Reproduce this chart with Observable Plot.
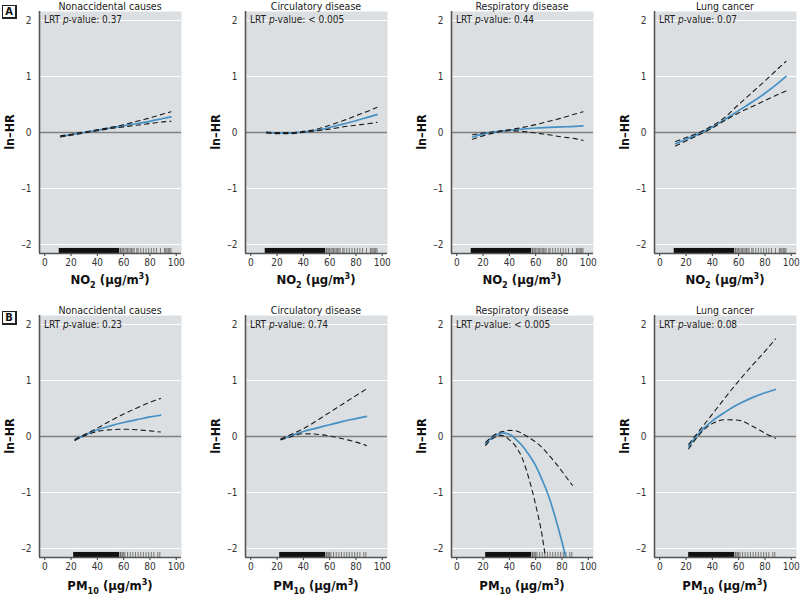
<!DOCTYPE html>
<html><head><meta charset="utf-8">
<script src="https://cdn.jsdelivr.net/npm/d3@7"></script>
<script src="https://cdn.jsdelivr.net/npm/@observablehq/plot@0.6"></script>
<style>
body{margin:0;background:#fff;overflow:hidden}
#chart{position:relative;width:800px;height:598px;font-family:"Liberation Sans Narrow","DejaVu Sans",sans-serif;font-stretch:condensed}
.panel{position:absolute;font-stretch:condensed}
.tag{position:absolute;left:2px;width:12px;height:11px;border:1px solid #222;border-right-width:2px;border-bottom-width:2px;font-weight:bold;font-size:11px;line-height:11px;text-align:center;color:#111;background:#fff}
</style></head>
<body><div id="chart"></div>
<script>
// ---------- data ----------
const outcomes = ["Nonaccidental causes", "Circulatory disease", "Respiratory disease", "Lung cancer"];
const pValuesNO2 = ["0.37", "< 0.005", "0.44", "0.07"];
const pValuesPM10 = ["0.23", "0.74", "< 0.005", "0.08"];
const rowTags = ["A", "B"];
const xTicks = [0, 20, 40, 60, 80, 100];
const yTicks = [-2, -1, 0, 1, 2];
const gridLines = [-2, -1, 1, 2];

// rug of exposures (dense span + individual observations)
const rugDenseNO2 = [11, 57];
const rugTicksNO2 = [57.5, 58, 59, 60, 61, 62, 63, 64, 65, 66, 67, 68, 70, 71, 73, 75, 77, 79, 81, 83, 85, 88, 91, 92, 93, 94, 95, 96];
const rugDensePM10 = [22, 57];
const rugTicksPM10 = [57.5, 58, 59, 60, 61, 63, 65, 67, 69, 71, 73, 75, 77, 79, 81, 83, 86, 87.5];

// NO2 panels
const no2X = [12, 20, 30, 40, 50, 60, 70, 80, 90, 96];
const no2NonaccEst = [-0.07, -0.04, 0.00, 0.04, 0.08, 0.12, 0.16, 0.20, 0.25, 0.28];
const no2NonaccHi  = [-0.06, -0.03, 0.01, 0.05, 0.09, 0.14, 0.20, 0.26, 0.33, 0.37];
const no2NonaccLo  = [-0.08, -0.05, -0.01, 0.03, 0.07, 0.10, 0.13, 0.16, 0.19, 0.20];
const no2CircEst = [0.00, -0.01, -0.01, 0.01, 0.04, 0.09, 0.15, 0.21, 0.28, 0.32];
const no2CircHi  = [0.01, 0.00, 0.00, 0.02, 0.06, 0.13, 0.21, 0.30, 0.39, 0.45];
const no2CircLo  = [-0.01, -0.02, -0.02, 0.00, 0.03, 0.06, 0.10, 0.13, 0.16, 0.18];
const no2RespEst = [-0.08, -0.03, 0.01, 0.04, 0.06, 0.08, 0.09, 0.10, 0.11, 0.12];
const no2RespHi  = [-0.04, -0.01, 0.02, 0.05, 0.09, 0.14, 0.20, 0.26, 0.33, 0.37];
const no2RespLo  = [-0.12, -0.06, 0.00, 0.03, 0.02, -0.01, -0.04, -0.08, -0.11, -0.14];
const no2LungEst = [-0.20, -0.12, -0.02, 0.10, 0.24, 0.39, 0.54, 0.70, 0.88, 1.00];
const no2LungHi  = [-0.16, -0.09, 0.00, 0.12, 0.28, 0.50, 0.71, 0.92, 1.14, 1.27];
const no2LungLo  = [-0.24, -0.15, -0.04, 0.08, 0.22, 0.35, 0.46, 0.57, 0.68, 0.74];

// PM10 panels
const pm10X = [23, 30, 40, 50, 60, 70, 80, 88];
const pm10NonaccEst = [-0.06, 0.02, 0.12, 0.19, 0.25, 0.30, 0.35, 0.38];
const pm10NonaccHi  = [-0.05, 0.03, 0.15, 0.28, 0.40, 0.51, 0.61, 0.68];
const pm10NonaccLo  = [-0.07, 0.01, 0.09, 0.12, 0.13, 0.12, 0.10, 0.08];
const pm10CircEst = [-0.05, 0.01, 0.09, 0.15, 0.21, 0.27, 0.32, 0.36];
const pm10CircHi  = [-0.04, 0.03, 0.14, 0.28, 0.43, 0.58, 0.73, 0.85];
const pm10CircLo  = [-0.06, -0.01, 0.05, 0.04, 0.01, -0.04, -0.10, -0.16];
const pm10RespEstX = [22, 25, 30, 35, 40, 45, 50, 55, 60, 65, 70, 75, 80, 83];
const pm10RespEst  = [-0.13, -0.05, 0.03, 0.06, 0.04, -0.05, -0.17, -0.33, -0.52, -0.78, -1.07, -1.45, -1.88, -2.16];
const pm10RespHiX  = [22, 25, 30, 35, 40, 45, 50, 55, 60, 65, 70, 75, 80, 85, 88];
const pm10RespHi   = [-0.10, -0.04, 0.05, 0.09, 0.11, 0.10, 0.05, -0.02, -0.10, -0.20, -0.33, -0.47, -0.62, -0.78, -0.87];
const pm10RespLoX  = [22, 25, 30, 33, 36, 40, 45, 50, 55, 60, 65, 67.5];
const pm10RespLo   = [-0.16, -0.08, 0.00, 0.02, 0.01, -0.06, -0.18, -0.40, -0.76, -1.22, -1.78, -2.16];
const pm10LungX  = [22, 25, 30, 35, 40, 50, 60, 70, 80, 88];
const pm10LungEst = [-0.18, -0.08, 0.06, 0.18, 0.28, 0.44, 0.58, 0.69, 0.78, 0.84];
const pm10LungHi  = [-0.14, -0.05, 0.10, 0.25, 0.40, 0.70, 0.99, 1.26, 1.52, 1.74];
const pm10LungLo  = [-0.22, -0.12, 0.03, 0.15, 0.23, 0.30, 0.29, 0.19, 0.06, -0.03];

// ---------- drawing ----------
const FONT = '"Liberation Sans Narrow","DejaVu Sans",sans-serif';
const W = 182, H = 294, mL = 39, mR = 1, mT = 11, mB = 41;
const Y0 = -2.16, Y1 = 2.16;
const pts = (xs, ys) => xs.map((x, i) => ({x, y: ys[i]}));

const panels = [
  {row:0,col:0, est:pts(no2X,no2NonaccEst), hi:pts(no2X,no2NonaccHi), lo:pts(no2X,no2NonaccLo)},
  {row:0,col:1, est:pts(no2X,no2CircEst), hi:pts(no2X,no2CircHi), lo:pts(no2X,no2CircLo)},
  {row:0,col:2, est:pts(no2X,no2RespEst), hi:pts(no2X,no2RespHi), lo:pts(no2X,no2RespLo)},
  {row:0,col:3, est:pts(no2X,no2LungEst), hi:pts(no2X,no2LungHi), lo:pts(no2X,no2LungLo)},
  {row:1,col:0, est:pts(pm10X,pm10NonaccEst), hi:pts(pm10X,pm10NonaccHi), lo:pts(pm10X,pm10NonaccLo)},
  {row:1,col:1, est:pts(pm10X,pm10CircEst), hi:pts(pm10X,pm10CircHi), lo:pts(pm10X,pm10CircLo)},
  {row:1,col:2, est:pts(pm10RespEstX,pm10RespEst), hi:pts(pm10RespHiX,pm10RespHi), lo:pts(pm10RespLoX,pm10RespLo)},
  {row:1,col:3, est:pts(pm10LungX,pm10LungEst), hi:pts(pm10LungX,pm10LungHi), lo:pts(pm10LungX,pm10LungLo)}
];

const chart = document.getElementById("chart");
rowTags.forEach((t, i) => {
  const d = document.createElement("div");
  d.className = "tag"; d.textContent = t; d.style.top = (i === 0 ? 5 : 311) + "px";
  chart.appendChild(d);
});

const colLeft = [0, 206, 412, 615];
const rowTop = [0, 304];
const fmtY = d => d < 0 ? "\u2013" + Math.abs(d) : String(d);

panels.forEach(p => {
  const rugDense = p.row === 0 ? rugDenseNO2 : rugDensePM10;
  const rugTicks = p.row === 0 ? rugTicksNO2 : rugTicksPM10;
  const svg = Plot.plot({
    width: W, height: H, marginLeft: mL, marginRight: mR, marginTop: mT, marginBottom: mB,
    style: {fontFamily: FONT, fontSize: "10px", color: "#333", background: "transparent", overflow: "visible"},
    x: {domain: [-4, 104], ticks: xTicks, tickSize: 3, tickPadding: 2, label: null},
    y: {domain: [Y0, Y1], ticks: yTicks, tickSize: 0, tickPadding: 8, label: null, tickFormat: fmtY},
    marks: [
      Plot.frame({fill: "#dcdfe1", stroke: null}),
      Plot.ruleY(gridLines, {stroke: "#ffffff", strokeWidth: 1}),
      Plot.ruleY([0], {stroke: "#808080", strokeWidth: 1.3}),
      Plot.rect([rugDense], {x1: d => d[0], x2: d => d[1], y1: Y0, y2: -2.07, fill: "#111"}),
      Plot.ruleX(rugTicks, {x: d => d, y1: Y0, y2: -2.07, stroke: "#222", strokeOpacity: 0.55, strokeWidth: 1}),
      Plot.line(p.est, {x: "x", y: "y", stroke: "#4590c5", strokeWidth: 1.7, curve: "monotone-x", clip: true}),
      Plot.line(p.hi, {x: "x", y: "y", stroke: "#1a1a1a", strokeWidth: 1.1, strokeDasharray: "4.5,4", curve: "monotone-x", clip: true}),
      Plot.line(p.lo, {x: "x", y: "y", stroke: "#1a1a1a", strokeWidth: 1.1, strokeDasharray: "4.5,4", curve: "monotone-x", clip: true}),
      Plot.ruleX([-4], {stroke: "#555", strokeWidth: 1.6}),
      Plot.ruleY([Y0], {stroke: "#555", strokeWidth: 1.6})
    ]
  });
  svg.classList.add("panel");
  svg.style.left = colLeft[p.col] + "px";
  svg.style.top = rowTop[p.row] + "px";
  chart.appendChild(svg);

  const g = d3.select(svg);
  const cx = mL + (W - mL - mR) / 2;
  // panel title
  g.append("text").attr("x", cx).attr("y", p.row === 0 ? 9.5 : 10).attr("text-anchor", "middle")
    .attr("font-size", 10.5).attr("fill", "#222").text(outcomes[p.col]);
  // LRT p-value
  const pv = (p.row === 0 ? pValuesNO2 : pValuesPM10)[p.col];
  const lt = g.append("text").attr("x", mL + 5).attr("y", p.row === 0 ? 22.5 : 24)
    .attr("text-anchor", "start").attr("font-size", 10).attr("fill", "#222");
  lt.append("tspan").text("LRT ");
  lt.append("tspan").attr("font-style", "italic").text("p");
  lt.append("tspan").text("-value: " + pv);
  // y label
  g.append("text").attr("transform", `translate(14,${(mT + H - mB) / 2}) rotate(-90)`).attr("text-anchor", "middle")
    .attr("font-size", 12.5).attr("font-weight", "bold").attr("fill", "#111").text("ln–HR");
  // x label
  const xl = g.append("text").attr("x", cx).attr("y", p.row === 0 ? 284 : 286).attr("text-anchor", "middle")
    .attr("font-size", 13).attr("font-weight", "bold").attr("fill", "#111");
  if (p.row === 0) {
    xl.append("tspan").text("NO");
    xl.append("tspan").attr("dy", 4).attr("font-size", 9).text("2");
  } else {
    xl.append("tspan").text("PM");
    xl.append("tspan").attr("dy", 4).attr("font-size", 9).text("10");
  }
  xl.append("tspan").attr("dy", -4).text(" (μg/m");
  xl.append("tspan").attr("dy", -5).attr("font-size", 9).text("3");
  xl.append("tspan").attr("dy", 5).text(")");
});
</script>
</body></html>
